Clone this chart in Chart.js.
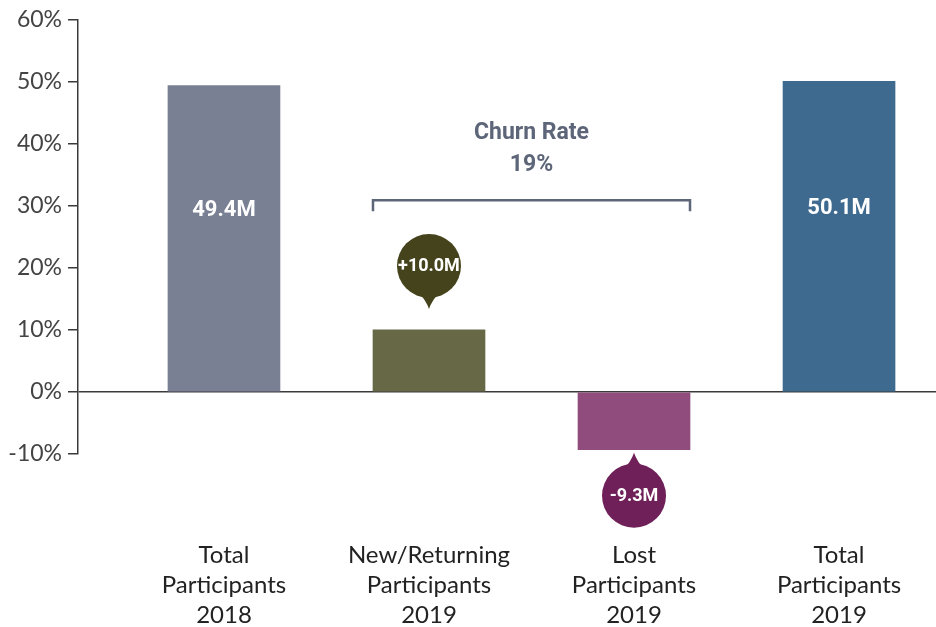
<!DOCTYPE html>
<html>
<head>
<meta charset="utf-8">
<script src="https://cdn.jsdelivr.net/npm/chart.js@4"></script>
<style>
  html, body { margin: 0; padding: 0; background: #fff; }
</style>
</head>
<body>
<canvas id="myChart" width="936" height="627"></canvas>
<script>
// data
const categories = [
  ['Total', 'Participants', '2018'],
  ['New/Returning', 'Participants', '2019'],
  ['Lost', 'Participants', '2019'],
  ['Total', 'Participants', '2019']
];
const values = [49.4, 10.0, -9.3, 50.1];
const valueLabels = ['49.4M', '+10.0M', '-9.3M', '50.1M'];
const isTotal = [true, false, false, true];
const churnLabel = ['Churn Rate', '19%'];

const barColors = ['#7a8093', '#676946', '#8f4c7c', '#3f6a8f'];
const bubbleColors = ['', '#44431c', '#6f2058', ''];
const slate = '#5d6579';

const annotations = {
  id: 'annotations',
  afterDatasetsDraw(chart) {
    const ctx = chart.ctx;
    const bars = chart.getDatasetMeta(0).data;
    const y = chart.scales.y;
    ctx.save();
    ctx.textAlign = 'center';
    ctx.textBaseline = 'middle';

    bars.forEach((bar, i) => {
      const label = valueLabels[i];
      if (isTotal[i]) {
        ctx.fillStyle = '#fff';
        ctx.font = 'bold 22px Roboto';
        ctx.fillText(label, bar.x, bar.y + (bar.base - bar.y) * 0.41);
        return;
      }
      // speech bubble
      const up = values[i] >= 0;
      const r = 32;
      const tip = up ? bar.y - 21 : bar.y + 3;
      const cy = up ? tip - 43 : tip + 43;
      const dir = up ? 1 : -1;
      ctx.fillStyle = bubbleColors[i];
      ctx.beginPath();
      ctx.arc(bar.x, cy, r, 0, Math.PI * 2);
      ctx.fill();
      ctx.beginPath();
      ctx.moveTo(bar.x - 11, cy + dir * (r - 6));
      ctx.quadraticCurveTo(bar.x - 3, cy + dir * (r + 2), bar.x, tip);
      ctx.quadraticCurveTo(bar.x + 3, cy + dir * (r + 2), bar.x + 11, cy + dir * (r - 6));
      ctx.closePath();
      ctx.fill();
      ctx.fillStyle = '#fff';
      ctx.font = 'bold 18px Roboto';
      ctx.fillText(label, bar.x, cy + 1);
    });

    // churn bracket over the middle bars
    const left = bars[1].x - bars[1].width / 2;
    const right = bars[2].x + bars[2].width / 2;
    const by = y.getPixelForValue(30.9);
    ctx.strokeStyle = slate;
    ctx.lineWidth = 2.5;
    ctx.beginPath();
    ctx.moveTo(left, by + 11);
    ctx.lineTo(left, by);
    ctx.lineTo(right, by);
    ctx.lineTo(right, by + 11);
    ctx.stroke();

    ctx.fillStyle = slate;
    ctx.font = 'bold 23px Roboto';
    const cx = (left + right) / 2;
    ctx.fillText(churnLabel[0], cx, by - 67);
    ctx.fillText(churnLabel[1], cx, by - 35);
    ctx.restore();
  }
};

const ctx = document.getElementById('myChart').getContext('2d');
const chart = new Chart(ctx, {
  type: 'bar',
  data: {
    datasets: [
      {
        data: values.map((v, i) => ({ x: i, y: v })),
        backgroundColor: barColors,
        barThickness: 112
      }
    ]
  },
  options: {
    responsive: false,
    animation: false,
    layout: { padding: { top: 13, right: 0, bottom: 0, left: 0 } },
    plugins: { legend: { display: false }, tooltip: { enabled: false } },
    scales: {
      x: {
        type: 'linear',
        offset: false,
        min: -0.712,
        max: 3.473,
        afterBuildTicks: axis => {
          axis.ticks = categories.map((_, i) => ({ value: i }));
        },
        afterFit: axis => {
          axis.height = 173;
          axis.paddingLeft = 0;
          axis.paddingRight = 0;
        },
        grid: { display: false, drawTicks: false },
        border: { display: false },
        ticks: {
          autoSkip: false,
          maxRotation: 0,
          padding: 86,
          color: '#222',
          font: { family: 'Lato', size: 24, lineHeight: '30px' },
          callback: v => categories[v]
        }
      },
      y: {
        min: -10,
        max: 60,
        afterFit: axis => { axis.width = 78; },
        grid: {
          drawOnChartArea: true,
          color: c => (c.tick && c.tick.value === 0 ? '#3a3a3a' : 'transparent'),
          lineWidth: 1.5,
          tickColor: '#3a3a3a',
          tickLength: 10
        },
        border: { display: true, color: '#3a3a3a', width: 1.5 },
        ticks: {
          stepSize: 10,
          padding: 6,
          color: '#444',
          font: { family: 'Lato', size: 23 },
          callback: v => v + '%'
        }
      }
    }
  },
  plugins: [annotations]
});
</script>
</body>
</html>
